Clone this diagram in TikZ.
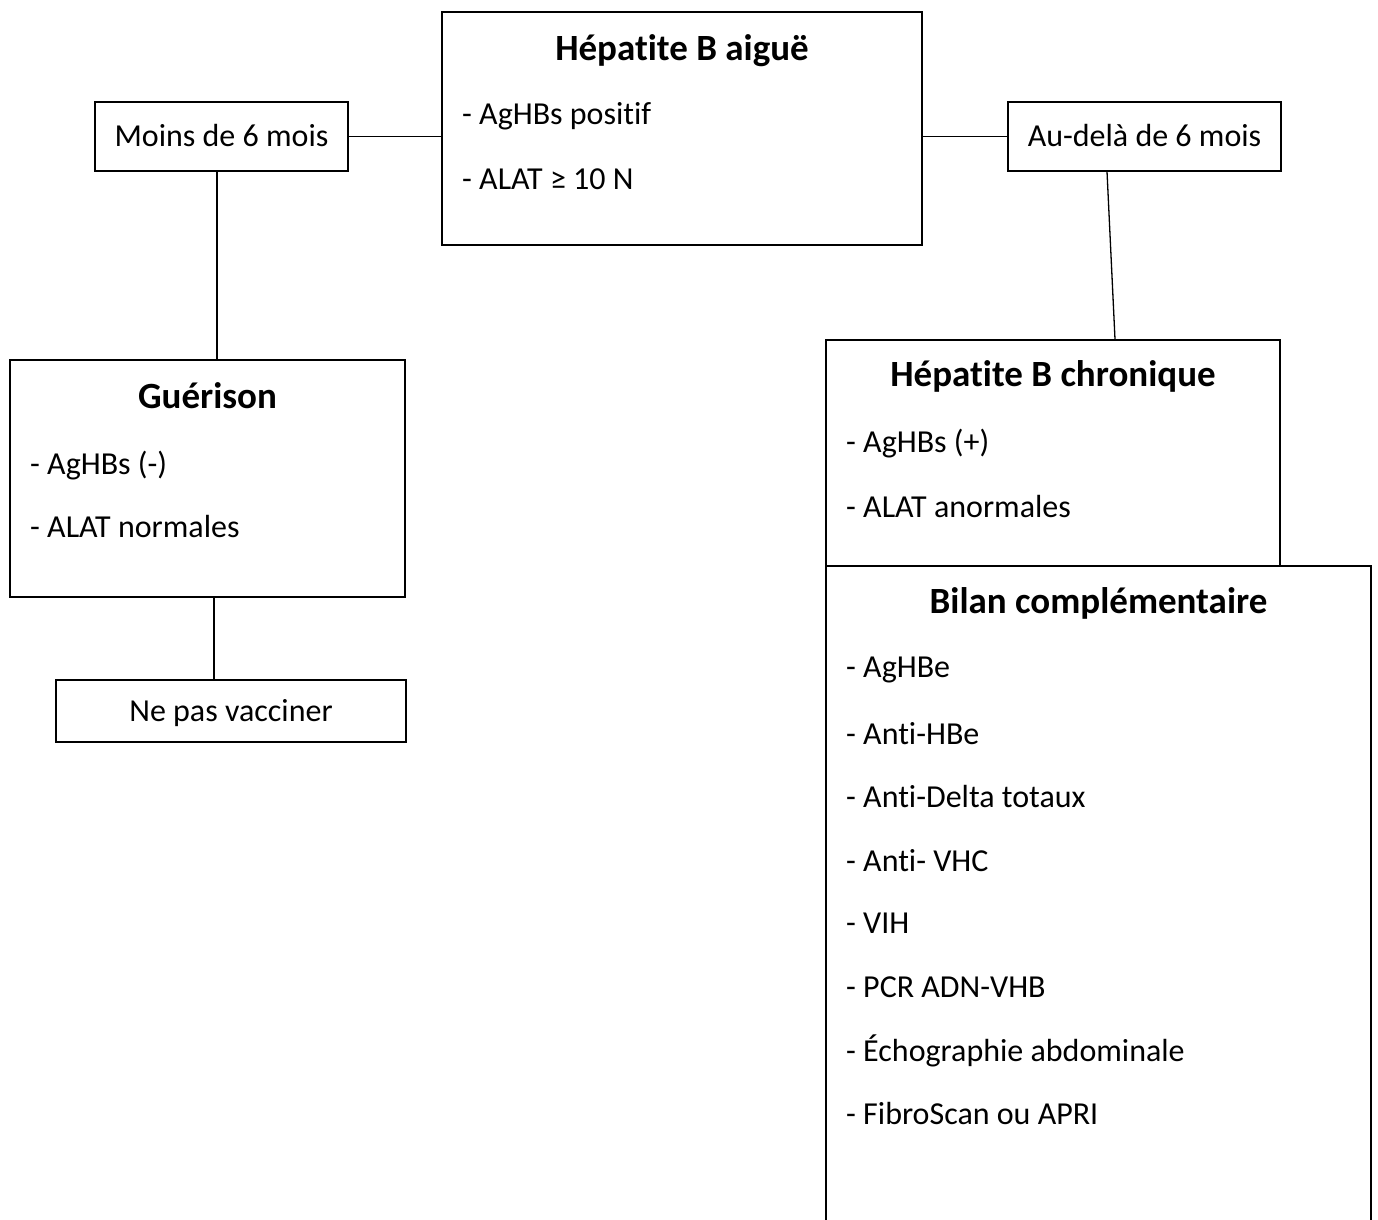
\documentclass[tikz,border=0pt]{standalone}
\usepackage{fontspec}
\setmainfont{Carlito}[Ligatures=NoCommon]
\begin{document}
\begin{tikzpicture}[x=1pt,y=-1pt,
  box/.style={draw=black, line width=1.3pt, inner sep=0pt, fill=white},
  link/.style={draw=black, line width=1.3pt},
  title/.style={font=\fontsize{37}{44}\selectfont\bfseries, inner sep=0pt},
  item/.style={font=\fontsize{32}{38}\selectfont, inner sep=0pt, anchor=west},
  label/.style={font=\fontsize{32}{38}\selectfont, inner sep=0pt}]
\useasboundingbox (0,0) rectangle (1378,1219);
\fill[white] (0,0) rectangle (1378,1219);
\clip (0,0) rectangle (1378,1219);

% acute hepatitis B
\node[box, minimum width=480, minimum height=233] (aigue) at (682,128.5) {};
\node[title] (aiguetitle) at (682,51) {Hépatite B aiguë};
\node[item] (aigue1) at (462,116) {- AgHBs positif};
\node[item] (aigue2) at (462,179) {- ALAT ≥ 10 N};

% duration boxes
\node[box, minimum width=253, minimum height=69] (moins) at (221.5,136.5) {};
\node[label] (moinstxt) at (221.5,136) {Moins de 6 mois};
\node[box, minimum width=273, minimum height=69] (audela) at (1144.5,136.5) {};
\node[label] (audelatxt) at (1144.5,136) {Au-delà de 6 mois};

% recovery
\node[box, minimum width=395, minimum height=237] (guerison) at (207.5,478.5) {};
\node[title] (guerisontitle) at (207.5,396) {Guérison};
\node[item] (guer1) at (30,466) {- AgHBs (-)};
\node[item] (guer2) at (30,526) {- ALAT normales};

\node[box, minimum width=350, minimum height=62] (nepas) at (231,711) {};
\node[label] (nepastxt) at (231,713) {Ne pas vacciner};

% complementary work-up (runs off the bottom edge)
\node[box, minimum width=545, minimum height=700] (bilan) at (1098.5,916) {};
\node[title] (bilantitle) at (1098.5,603) {Bilan complémentaire};
\foreach \t [count=\i] in {AgHBe, Anti-HBe, Anti-Delta totaux, Anti- VHC, VIH, PCR ADN-VHB, Échographie abdominale, FibroScan ou APRI}
  \node[item] (bilan\i) at (846,{670+63.4*(\i-1)}) {- \t};

% chronic hepatitis B
\node[box, minimum width=454, minimum height=226] (chronique) at (1053,453) {};
\node[title] (chroniquetitle) at (1053,376) {Hépatite B chronique};
\node[item] (chron1) at (846,444) {- AgHBs (+)};
\node[item] (chron2) at (846,506) {- ALAT anormales};

% connectors
\draw[link] (moins.east) -- (aigue.west |- moins.east);
\draw[link] (aigue.east |- audela.west) -- (audela.west);
\draw[link] (moins.south -| 217,0) -- (guerison.north -| 217,0);
\draw[link] (guerison.south -| 214,0) -- (nepas.north -| 214,0);
\draw[link] (audela.south -| 1107,0) -- (chronique.north -| 1115,0);
\end{tikzpicture}
\end{document}
